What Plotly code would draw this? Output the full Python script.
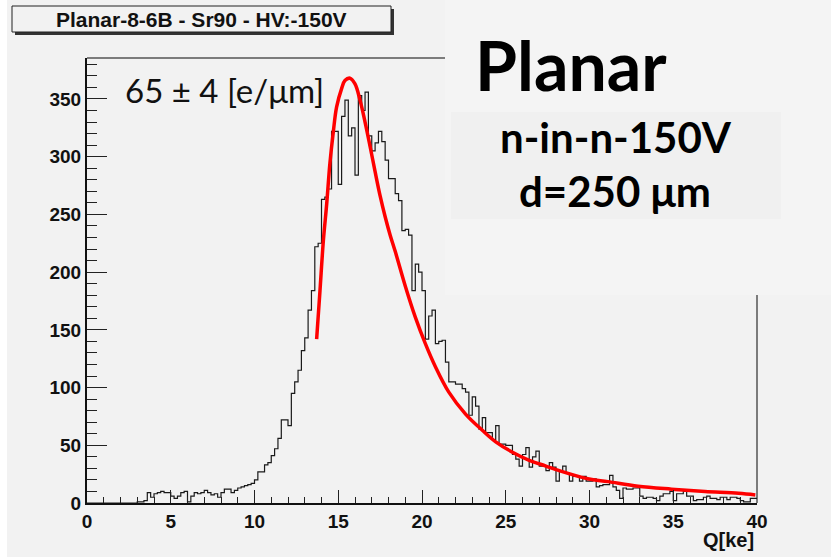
import numpy as np
import plotly.graph_objects as go

# ---------------- data ----------------
title_text = "Planar-8-6B - Sr90 - HV:-150V"
bin_start = 0.0
bin_width = 0.2
counts = [0]*15 + [
    1, 1, 2, 9, 5, 8, 9, 10, 9, 9,
    6, 4, 6, 9, 10, 1, 6, 9, 8, 9,
    11, 9, 7, 8, 5, 9, 12, 12, 9, 11,
    13, 14, 15, 16, 17, 20, 27, 27, 33, 35,
    41, 47, 56, 72, 72, 67, 95, 105, 115, 132,
    143, 167, 184, 222, 225, 263, 265, 272, 322, 322,
    276, 335, 349, 318, 325, 284, 353, 340, 356, 318,
    305, 312, 322, 313, 297, 281, 281, 268, 262, 236,
    237, 232, 184, 207, 200, 184, 142, 162, 167, 138,
    140, 141, 122, 105, 105, 103, 103, 99, 96, 76,
    92, 84, 64, 74, 61, 61, 55, 67, 51, 51,
    50, 50, 42, 38, 32, 42, 48, 31, 40, 45,
    32, 32, 28, 35, 31, 19, 28, 32, 26, 19,
    23, 23, 19, 23, 19, 19, 21, 14, 15, 16,
    16, 24, 14, 11, 4, 13, 12, 12, 13, 13,
    6, 4, 5, 5, 4, 2, 6, 8, 8, 10,
    2, 8, 8, 10, 6, 6, 2, 3, 3, 5,
    6, 4, 4, 3, 5, 5, 3, 5, 5, 4,
    2, 1, 1, 4, 4,
]
fit_q = [13.71, 13.91, 14.11, 14.31, 14.5, 14.7, 14.9, 15.2, 15.4, 15.7, 16.0, 16.3,
         16.6, 16.9, 17.2, 17.5, 17.8, 18.1, 18.4, 19.0, 19.6, 20.2, 20.8, 21.6,
         22.6, 23.6, 24.4, 25.4, 26.4, 27.4, 28.2, 29.9, 31.1, 32.9, 34.9, 36.9,
         38.9, 39.9]
fit_val = [142, 184, 227, 259, 294, 321, 343, 359, 366, 368, 363, 349,
           330, 309, 287, 266, 248, 232, 218, 188, 161, 138, 118, 96,
           77, 63, 53, 44, 37, 32, 28, 21, 18.5, 14.5, 12, 10,
           8.4, 7]
x_ticks = [0, 5, 10, 15, 20, 25, 30, 35, 40]
y_ticks = [0, 50, 100, 150, 200, 250, 300, 350]
x_title = "Q[ke]"
fit_label = "65 ± 4 [e/μm]"
big_label = "Planar"
sub_label1 = "n-in-n-150V"
sub_label2 = "d=250 μm"

# ---------------- geometry helpers (pixel -> paper) ----------------
W, H = 831, 559
L, R, T, B = 87, 757, 58, 503
def px(x):
    return (x - L) / (R - L)
def py(y):
    return (B - y) / (B - T)

edges = bin_start + bin_width * np.arange(len(counts) + 1)
hist_y = counts + [counts[-1]]

fig = go.Figure()
fig.add_trace(go.Scatter(x=edges, y=hist_y, mode="lines", line_shape="hv",
                         line=dict(color="#1a1a1a", width=1.2), showlegend=False,
                         hoverinfo="skip"))
fig.add_trace(go.Scatter(x=fit_q, y=fit_val, mode="lines", line_shape="spline",
                         line=dict(color="#ff0000", width=3.5), showlegend=False,
                         hoverinfo="skip"))

ROOTFONT = "Liberation Sans, Arial, sans-serif"
tickfont = dict(family=ROOTFONT, size=19, color="#111", weight="bold")
fig.update_layout(
    width=W, height=H,
    margin=dict(l=L, r=W - R, t=T, b=H - B, pad=0),
    paper_bgcolor="white",
    plot_bgcolor="rgba(0,0,0,0)",
    xaxis=dict(range=[0, 40], tickvals=x_ticks, ticks="inside", ticklen=13, tickwidth=1,
               tickcolor="#222", showgrid=False, zeroline=False, showline=True,
               linecolor="#111", linewidth=2, tickfont=tickfont,
               minor=dict(ticks="inside", ticklen=6.5, dtick=1, tickcolor="#222", tickwidth=1)),
    yaxis=dict(range=[0, 385.5], tickvals=y_ticks, ticks="inside", ticklen=20, tickwidth=1,
               tickcolor="#222", showgrid=False, zeroline=False, showline=True,
               linecolor="#111", linewidth=2, tickfont=tickfont,
               minor=dict(ticks="inside", ticklen=10, dtick=10, tickcolor="#222", tickwidth=1)),
)

shapes = []
# canvas background
shapes.append(dict(type="rect", xref="paper", yref="paper", x0=px(7), x1=px(831), y0=py(0), y1=py(557),
                   fillcolor="#f2f2f2", line=dict(width=0), layer="below"))
# frame top / right
shapes.append(dict(type="line", xref="paper", yref="paper", x0=0, x1=1, y0=1, y1=1,
                   line=dict(color="#555", width=1.5), layer="below"))
shapes.append(dict(type="line", xref="paper", yref="paper", x0=1, x1=1, y0=0, y1=1,
                   line=dict(color="#555", width=1.5), layer="below"))
# light text region (covers frame corner)
shapes.append(dict(type="rect", xref="paper", yref="paper", x0=px(445), x1=px(831), y0=py(0), y1=py(295),
                   fillcolor="#f4f4f4", line=dict(width=0), layer="above"))
shapes.append(dict(type="rect", xref="paper", yref="paper", x0=px(451), x1=px(781), y0=py(112), y1=py(219),
                   fillcolor="#f0f0f0", line=dict(width=0), layer="above"))
# title box with shadow
shapes.append(dict(type="rect", xref="paper", yref="paper", x0=px(15), x1=px(394), y0=py(9), y1=py(35),
                   fillcolor="#333", line=dict(width=0), layer="above"))
shapes.append(dict(type="rect", xref="paper", yref="paper", x0=px(12), x1=px(391), y0=py(6), y1=py(32),
                   fillcolor="#f2f2f2", line=dict(color="#222", width=1), layer="above"))
fig.update_layout(shapes=shapes)

ann = []
ann.append(dict(text="<b>" + title_text + "</b>", x=px(201), y=py(19.5), xref="paper", yref="paper",
                showarrow=False, xanchor="center", yanchor="middle",
                font=dict(family=ROOTFONT, size=21, color="#111")))
ann.append(dict(text="<b>" + x_title + "</b>", x=px(756), y=py(540), xref="paper", yref="paper",
                showarrow=False, xanchor="right", yanchor="middle",
                font=dict(family=ROOTFONT, size=20, color="#111")))
ann.append(dict(text=fit_label, x=px(123), y=py(90), xref="paper", yref="paper",
                showarrow=False, xanchor="left", yanchor="middle",
                font=dict(family="Lato, Noto Sans, sans-serif", size=33, color="#111")))
ann.append(dict(text="<b>" + big_label + "</b>", x=px(571), y=py(64), xref="paper", yref="paper",
                showarrow=False, xanchor="center", yanchor="middle",
                font=dict(family="Lato, Noto Sans, sans-serif", size=68, color="#000")))
ann.append(dict(text="<b>" + sub_label1 + "</b>", x=px(616), y=py(137), xref="paper", yref="paper",
                showarrow=False, xanchor="center", yanchor="middle",
                font=dict(family="Lato, Noto Sans, sans-serif", size=42, color="#000")))
ann.append(dict(text="<b>" + sub_label2 + "</b>", x=px(615), y=py(191), xref="paper", yref="paper",
                showarrow=False, xanchor="center", yanchor="middle",
                font=dict(family="Lato, Noto Sans, sans-serif", size=42, color="#000")))
fig.update_layout(annotations=ann)

fig.write_html("out.html")
